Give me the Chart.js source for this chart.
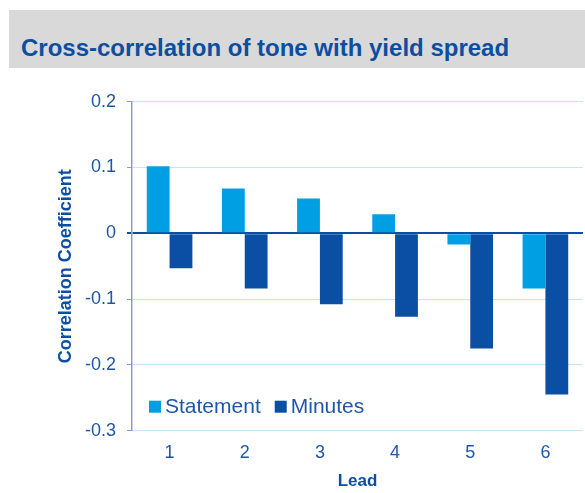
<!DOCTYPE html>
<html>
<head>
<meta charset="utf-8">
<script src="https://cdn.jsdelivr.net/npm/chart.js@4/dist/chart.umd.min.js"></script>
<style>
  html, body { margin: 0; padding: 0; background: #ffffff; }
  #wrap { position: relative; width: 585px; height: 493px; overflow: hidden; }
  #band { position: absolute; left: 9px; top: 10px; width: 576px; height: 58px; background: #d9d9d9; }
  #title { position: absolute; left: 21px; top: 36px; font: bold 24px "Liberation Sans", Arial, sans-serif; line-height: 24px; color: #0b4ea2; white-space: nowrap; }
  #c { position: absolute; left: 0; top: 0; }
</style>
</head>
<body>
<div id="wrap">
  <div id="band"></div>
  <div id="title">Cross-correlation of tone with yield spread</div>
  <canvas id="c" width="585" height="493"></canvas>
</div>
<script>
const categories = ['1', '2', '3', '4', '5', '6'];
const statementValues = [0.102, 0.068, 0.053, 0.029, -0.017, -0.084];
const minutesValues = [-0.053, -0.084, -0.108, -0.127, -0.175, -0.245];
const yTicks = [0.2, 0.1, 0, -0.1, -0.2, -0.3];
const seriesNames = ['Statement', 'Minutes'];
const seriesColors = ['#009fe3', '#0a4fa3'];

const TEXT = '#1f57a8';
const FONT = '"Liberation Sans", Arial, sans-serif';

const legendInside = {
  id: 'legendInside',
  afterDraw(chart) {
    const ctx = chart.ctx;
    const a = chart.chartArea;
    let x = a.left + 17;
    const y = 406.7;
    ctx.save();
    ctx.font = '21px ' + FONT;
    ctx.textBaseline = 'middle';
    ctx.textAlign = 'left';
    chart.data.datasets.forEach(ds => {
      ctx.fillStyle = ds.backgroundColor;
      ctx.fillRect(x, y - 6, 12, 12);
      x += 16;
      ctx.fillStyle = TEXT;
      ctx.fillText(ds.label, x, y + 1);
      x += ctx.measureText(ds.label).width + 14;
    });
    ctx.restore();
  }
};

new Chart(document.getElementById('c'), {
  type: 'bar',
  data: {
    labels: categories,
    datasets: [
      { label: seriesNames[0], data: statementValues, backgroundColor: seriesColors[0] },
      { label: seriesNames[1], data: minutesValues, backgroundColor: seriesColors[1] }
    ]
  },
  options: {
    responsive: false,
    animation: false,
    devicePixelRatio: 1,
    layout: { padding: { left: 50, right: 2, top: 101.7, bottom: 0 } },
    datasets: { bar: { categoryPercentage: 0.607, barPercentage: 1.0, borderWidth: 0 } },
    plugins: { legend: { display: false }, tooltip: { enabled: false }, title: { display: false } },
    scales: {
      x: {
        grid: { display: false, drawTicks: false },
        border: { display: false },
        ticks: { color: TEXT, font: { family: FONT, size: 18 }, padding: 12 },
        title: { display: true, text: 'Lead', color: '#0b4ea2', font: { family: FONT, size: 17, weight: 'bold' }, padding: { top: 0, bottom: 1 } },
        afterFit(s) { s.height = 493 - 430.7; }
      },
      y: {
        min: -0.3, max: 0.2,
        afterBuildTicks(s) { s.ticks = yTicks.map(v => ({ value: v })); },
        afterFit(s) { s.width = 132 - 50; },
        grid: {
          color: c => (c.tick && c.tick.value === 0) ? '#0a4fa3' : '#c5e6f6',
          lineWidth: c => (c.tick && c.tick.value === 0) ? 2 : 1,
          tickColor: c => (c.tick && c.tick.value === 0) ? '#0a4fa3' : '#8f9bc6',
          tickLength: 5
        },
        border: { display: true, color: '#8f9bc6', width: 1.5 },
        ticks: {
          color: TEXT, font: { family: FONT, size: 18 }, padding: 11,
          callback: v => (Math.abs(v) < 1e-9 ? '0' : String(Math.round(v * 10) / 10))
        },
        title: { display: true, text: 'Correlation Coefficient', color: '#0b4ea2', font: { family: FONT, size: 18, weight: 'bold' }, padding: { top: 5, bottom: 0 } }
      }
    }
  },
  plugins: [legendInside]
});
</script>
</body>
</html>
